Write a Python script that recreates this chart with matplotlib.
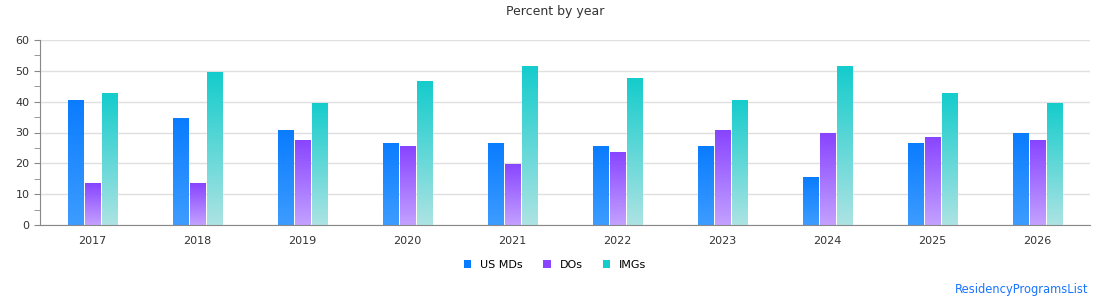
import numpy as np
import matplotlib
matplotlib.use('Agg')
import matplotlib.pyplot as plt
from matplotlib.colors import LinearSegmentedColormap
from matplotlib.ticker import MultipleLocator

years = ['2017', '2018', '2019', '2020', '2021', '2022', '2023', '2024', '2025', '2026']
us_mds = [40.6, 34.7, 30.8, 26.6, 26.6, 25.6, 25.6, 15.6, 26.6, 29.8]
dos = [13.6, 13.6, 27.6, 25.6, 19.8, 23.7, 30.8, 29.8, 28.6, 27.6]
imgs = [42.8, 49.6, 39.6, 46.7, 51.6, 47.7, 40.6, 51.6, 42.8, 39.6]

series = [
    ('US MDs', us_mds, '#0a7cff', '#3d9cff'),
    ('DOs', dos, '#8844ff', '#c3a1ff'),
    ('IMGs', imgs, '#14cccc', '#ade3e3'),
]

fig = plt.figure(figsize=(11.1, 3.0), dpi=100)
ax = fig.add_axes([40 / 1110, 75 / 300, 1050 / 1110, 185 / 300])

x = np.arange(len(years))
w = 0.152
step = 0.162
grad = np.linspace(0, 1, 256).reshape(-1, 1)

for i, (name, vals, top, bottom) in enumerate(series):
    cmap = LinearSegmentedColormap.from_list(name, [bottom, top])
    bars = ax.bar(x + (i - 1) * step, vals, w, facecolor='none', edgecolor='none',
                  label=name, zorder=2)
    for b in bars:
        bx = b.get_x()
        # vertical gradient, light at the bottom, full colour at the top
        im = ax.imshow(grad, extent=[bx, bx + b.get_width(), 0, b.get_height()],
                       cmap=cmap, aspect='auto', origin='lower', zorder=2)
        im.set_clip_path(b)

ax.set_xlim(-0.5, 9.5)
ax.set_ylim(0, 60)
ax.set_xticks(x)
ax.set_xticklabels(years)
ax.yaxis.set_major_locator(MultipleLocator(10))
ax.yaxis.set_minor_locator(MultipleLocator(5))
ax.grid(axis='y', color='#e0e0e0', linewidth=1, zorder=0)
ax.set_axisbelow(True)
for s in ['top', 'right']:
    ax.spines[s].set_visible(False)
for s in ['left', 'bottom']:
    ax.spines[s].set_color('#888888')
ax.tick_params(axis='y', which='both', colors='#888888', labelcolor='#333333', labelsize=8, length=4)
ax.tick_params(axis='x', length=0, labelcolor='#333333', labelsize=8, pad=8)

fig.text(0.5, 1 - 12 / 300, 'Percent by year', ha='center', va='center', fontsize=9, color='#333333')

handles = [plt.Rectangle((0, 0), 1, 1, facecolor=t, edgecolor='none') for _, _, t, _ in series]
fig.legend(handles, [s[0] for s in series], loc='center', bbox_to_anchor=(0.5, 1 - 265 / 300),
           ncol=3, frameon=False, fontsize=8, handlelength=0.7, handleheight=0.7,
           columnspacing=1.8, handletextpad=0.8)

fig.text(1088 / 1110, 1 - 290 / 300, 'ResidencyProgramsList', ha='right', va='center',
         fontsize=8.3, color='#1a75ff')

fig.savefig('out.png', dpi=100)
